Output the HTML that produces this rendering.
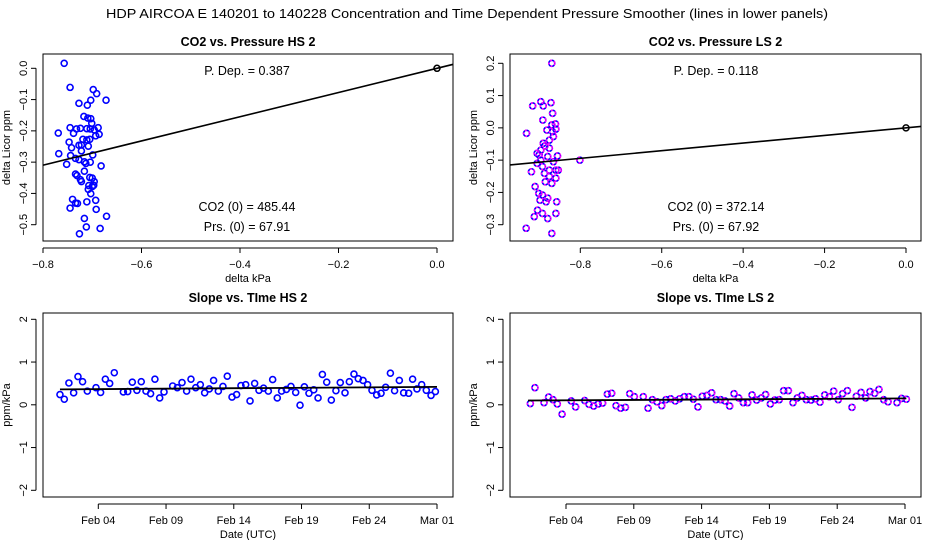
<!DOCTYPE html>
<html><head><meta charset="utf-8"><style>
html,body{margin:0;padding:0;background:#fff;}
svg{display:block;font-family:"Liberation Sans",Arial,sans-serif;}
</style></head><body>
<svg id="chart" width="936" height="540" viewBox="0 0 936 540" xmlns="http://www.w3.org/2000/svg">
<text x="467" y="18" font-size="12.5" text-anchor="middle" textLength="722" lengthAdjust="spacingAndGlyphs">HDP   AIRCOA E   140201 to 140228   Concentration and Time Dependent Pressure Smoother (lines in lower panels)</text>
</svg>
<script>
// ---- Data: HS pressure scatter ----
const hsPressX = [-0.757,-0.745,-0.698,-0.691,-0.672,-0.703,-0.727,-0.710,-0.717,-0.709,-0.703,-0.701,-0.688,-0.745,-0.769,-0.738,-0.732,-0.724,-0.711,-0.704,-0.696,-0.686,-0.693,-0.719,-0.711,-0.705,-0.722,-0.727,-0.708,-0.747,-0.742,-0.768,-0.744,-0.722,-0.699,-0.734,-0.727,-0.716,-0.713,-0.704,-0.752,-0.682,-0.716,-0.734,-0.731,-0.722,-0.724,-0.705,-0.700,-0.696,-0.707,-0.697,-0.700,-0.703,-0.708,-0.693,-0.740,-0.730,-0.734,-0.711,-0.745,-0.692,-0.716,-0.671,-0.712,-0.684,-0.726];
const hsPressY = [0.016,-0.061,-0.068,-0.081,-0.102,-0.102,-0.112,-0.118,-0.154,-0.159,-0.161,-0.176,-0.190,-0.190,-0.207,-0.208,-0.194,-0.192,-0.193,-0.194,-0.197,-0.211,-0.216,-0.227,-0.229,-0.227,-0.245,-0.246,-0.249,-0.236,-0.254,-0.273,-0.279,-0.264,-0.277,-0.288,-0.292,-0.299,-0.304,-0.300,-0.307,-0.312,-0.329,-0.338,-0.343,-0.362,-0.356,-0.349,-0.351,-0.362,-0.375,-0.374,-0.378,-0.401,-0.387,-0.422,-0.419,-0.432,-0.431,-0.427,-0.447,-0.451,-0.480,-0.473,-0.507,-0.512,-0.529];
const hsSlope = 0.387;
// ---- Data: LS pressure scatter ----
const lsPressX = [-0.870,-0.932,-0.917,-0.897,-0.891,-0.872,-0.868,-0.892,-0.906,-0.920,-0.882,-0.870,-0.860,-0.866,-0.876,-0.887,-0.897,-0.880,-0.866,-0.856,-0.897,-0.906,-0.893,-0.876,-0.860,-0.854,-0.876,-0.886,-0.860,-0.911,-0.902,-0.893,-0.880,-0.899,-0.884,-0.858,-0.905,-0.893,-0.880,-0.913,-0.860,-0.933,-0.870,-0.801,-0.861,-0.868,-0.891,-0.876,-0.901,-0.888,-0.870];
const lsPressY = [0.200,-0.017,0.068,0.081,0.068,0.078,0.045,0.024,-0.079,-0.136,-0.007,0.009,-0.004,-0.027,-0.038,-0.056,-0.069,-0.089,-0.105,-0.087,-0.100,-0.110,-0.120,-0.131,-0.131,-0.131,-0.151,-0.167,-0.156,-0.182,-0.203,-0.208,-0.218,-0.224,-0.229,-0.229,-0.255,-0.265,-0.281,-0.275,-0.265,-0.311,-0.327,-0.100,0.012,-0.012,-0.048,-0.063,-0.084,-0.141,-0.172];
const lsSlope = 0.118;
// ---- Data: HS slope vs time (day of Feb) ----
const hsDays = [1.17,1.49,1.83,2.18,2.50,2.84,3.19,3.83,4.17,4.52,4.84,5.18,5.85,6.17,6.51,6.85,7.17,7.52,7.86,8.18,8.53,8.85,9.49,9.83,10.18,10.52,10.84,11.19,11.53,11.85,12.19,12.51,12.86,13.20,13.52,13.87,14.21,14.53,14.88,15.20,15.54,15.86,16.20,16.55,16.87,17.21,17.53,17.88,18.22,18.57,18.89,19.21,19.55,19.90,20.22,20.54,20.86,21.20,21.54,21.86,22.21,22.53,22.87,23.19,23.54,23.88,24.20,24.55,24.87,25.21,25.56,25.87,26.22,26.54,26.91,27.20,27.52,27.87,28.21,28.56,28.88];
const hsSlopes = [0.24,0.13,0.51,0.28,0.66,0.54,0.32,0.40,0.29,0.60,0.50,0.75,0.30,0.31,0.53,0.34,0.54,0.32,0.26,0.60,0.16,0.30,0.44,0.40,0.52,0.32,0.60,0.40,0.47,0.28,0.37,0.57,0.32,0.43,0.67,0.18,0.24,0.45,0.47,0.09,0.50,0.34,0.39,0.32,0.59,0.16,0.32,0.36,0.43,0.29,-0.01,0.42,0.27,0.35,0.16,0.71,0.53,0.11,0.33,0.52,0.28,0.54,0.72,0.61,0.57,0.47,0.34,0.23,0.27,0.41,0.74,0.33,0.57,0.28,0.27,0.60,0.37,0.47,0.34,0.22,0.31];
const hsSmoothDays = [1.17,29.0];
const hsSmoothVals = [0.36,0.42];
// ---- Data: LS slope vs time ----
const lsDays = [1.37,1.71,2.38,2.72,3.04,3.36,3.71,4.39,4.71,5.38,5.70,6.04,6.38,6.70,7.05,7.37,7.69,8.03,8.38,8.70,9.04,9.70,10.05,10.37,10.71,11.06,11.37,11.72,12.06,12.38,12.73,13.07,13.39,13.73,14.05,14.40,14.74,15.06,15.41,15.73,16.07,16.39,16.73,17.08,17.40,17.72,18.06,18.41,18.72,19.07,19.39,19.73,20.05,20.40,20.74,21.06,21.40,21.72,22.07,22.41,22.73,23.08,23.42,23.74,24.08,24.40,24.75,25.09,25.41,25.76,26.10,26.42,26.76,27.08,27.43,27.75,28.41,28.75,29.10];
const lsSlopes = [0.03,0.40,0.05,0.18,0.12,0.02,-0.22,0.09,-0.05,0.10,0.01,-0.03,0.02,0.04,0.25,0.27,-0.02,-0.08,-0.06,0.26,0.19,0.19,-0.08,0.12,0.07,-0.02,0.12,0.14,0.09,0.14,0.19,0.19,0.13,-0.05,0.20,0.22,0.28,0.12,0.12,0.09,-0.03,0.26,0.16,0.05,0.05,0.23,0.11,0.16,0.24,0.02,0.11,0.12,0.33,0.33,0.05,0.16,0.22,0.12,0.11,0.14,0.06,0.23,0.19,0.32,0.12,0.26,0.33,-0.06,0.20,0.29,0.16,0.31,0.27,0.36,0.12,0.07,0.05,0.15,0.13];
const lsSmoothDays = [1.2,29.1];
const lsSmoothVals = [0.10,0.15];
const pressTicksX = [-0.8,-0.6,-0.4,-0.2,0.0];
const hsTicksY = [0.0,-0.1,-0.2,-0.3,-0.4,-0.5];
const lsTicksY = [0.2,0.1,0.0,-0.1,-0.2,-0.3];
const dateTicks = [4,9,14,19,24,29];
const dateLabels = ["Feb 04","Feb 09","Feb 14","Feb 19","Feb 24","Mar 01"];
const slopeTicksY = [2,1,0,-1,-2];

const svg = document.getElementById('chart');
const NS = 'http://www.w3.org/2000/svg';
function mk(tag, attrs, parent){ const e=document.createElementNS(NS,tag); for(const k in attrs) e.setAttribute(k,attrs[k]); (parent||svg).appendChild(e); return e; }
function lin(d0,d1,r0,r1){ return v => r0 + (v-d0)*(r1-r0)/(d1-d0); }
function fmt(v,dec){ const s=v.toFixed(dec); return s.replace('-','\u2212'); }

function panel(o){
  const g = mk('g',{});
  
  
  const t = mk('text',{x:(o.box[0]+o.box[1])/2,y:o.titleY,'font-size':12.5,'font-weight':'bold','text-anchor':'middle'},g);
  t.textContent=o.title;
  
  
  const fr = mk('rect',{x:o.box[0],y:o.box[2],width:o.box[1]-o.box[0],height:o.box[3]-o.box[2],fill:'none',stroke:'#000','stroke-width':1},g);
  
  
  const bY=o.box[3], lX=o.box[0];
  // x axis
  const xa = mk('g',{},g);
  
  
  const xt=o.xTicks.map(o.sx);
  mk('line',{x1:Math.min(...xt),x2:Math.max(...xt),y1:bY+7,y2:bY+7,stroke:'#000'},xa);
  o.xTicks.forEach((v,i)=>{ const x=o.sx(v); mk('line',{x1:x,x2:x,y1:bY+7,y2:bY+12,stroke:'#000'},xa);
    const tx=mk('text',{x:x,y:bY+27,'font-size':11,'text-anchor':'middle'},xa); tx.textContent=o.xLabels?o.xLabels[i]:fmt(v,1);
    
     });
  const xl=mk('text',{x:(o.box[0]+o.box[1])/2,y:bY+41,'font-size':11,'text-anchor':'middle'},xa); xl.textContent=o.xTitle;
  
  
  // y axis
  const ya = mk('g',{},g);
  
  
  const yt=o.yTicks.map(o.sy);
  mk('line',{x1:lX-7,x2:lX-7,y1:Math.min(...yt),y2:Math.max(...yt),stroke:'#000'},ya);
  o.yTicks.forEach(v=>{ const y=o.sy(v); mk('line',{x1:lX-12,x2:lX-7,y1:y,y2:y,stroke:'#000'},ya);
    const tx=mk('text',{x:0,y:0,'font-size':11,'text-anchor':'middle',transform:`translate(${lX-16},${y}) rotate(-90)`},ya);
    tx.textContent=o.yDec===0?fmt(v,0):fmt(v,1);
    
     });
  const yl=mk('text',{x:0,y:0,'font-size':11,'text-anchor':'middle',transform:`translate(${lX-33},${(o.box[2]+o.box[3])/2}) rotate(-90)`},ya); yl.textContent=o.yTitle;
  
  
  return g;
}
function clip(id,box){ const c=mk('clipPath',{id:id}); mk('rect',{x:box[0],y:box[2],width:box[1]-box[0],height:box[3]-box[2]},c); return 'url(#'+id+')'; }
function points(g,xs,ys,sx,sy,ls,name){
  const pg=mk('g',{},g);
  
  
  xs.forEach((v,i)=>{
    const c=mk('circle',{cx:sx(v),cy:sy(ys[i]),r:3,fill:'none',stroke:'#0000ff','stroke-width':1.6},pg);
    
    
    if(ls){ mk('circle',{cx:sx(v),cy:sy(ys[i]),r:3,fill:'none',stroke:'#ff00ff','stroke-width':1.6,'stroke-dasharray':'2 2'},pg); }
  });
}

// Top-left
(function(){
  const box=[43,453,54,241];
  const sx=lin(-0.8,0,43,437), sy=lin(0,-0.5,68.3,224.7);
  const g=panel({name:'hs-pressure-panel',title:'CO2 vs. Pressure HS 2',titleY:46,box,sx,sy,xTicks:pressTicksX,yTicks:hsTicksY,xTitle:'delta kPa',yTitle:'delta Licor ppm'});
  const cp=clip('c1',box);
  points(g,hsPressX,hsPressY,sx,sy,false,'hs-pressure-points');
  const fl=mk('line',{x1:sx(-0.9),y1:sy(-0.9*hsSlope),x2:sx(0.1),y2:sy(0.1*hsSlope),stroke:'#000','stroke-width':1.6,'clip-path':cp},g);
  
  
  const o=mk('circle',{cx:sx(0),cy:sy(0),r:3,fill:'none',stroke:'#000','stroke-width':1.5},g);
  
  
  [['P. Dep. =  '+hsSlope.toFixed(3),75],['CO2 (0) =  485.44',211],['Prs. (0) =  67.91',231]].forEach(a=>{
    const t=mk('text',{x:247,y:a[1],'font-size':12.5,'text-anchor':'middle','xml:space':'preserve'},g); t.textContent=a[0];
    
    
  });
})();
// Top-right
(function(){
  const box=[510,921,54,241];
  const sx=lin(-0.8,0,580.3,906), sy=lin(0.2,-0.3,63.3,224.7);
  const g=panel({name:'ls-pressure-panel',title:'CO2 vs. Pressure LS 2',titleY:46,box,sx,sy,xTicks:pressTicksX,yTicks:lsTicksY,xTitle:'delta kPa',yTitle:'delta Licor ppm'});
  const cp=clip('c2',box);
  points(g,lsPressX,lsPressY,sx,sy,true,'ls-pressure-points');
  const fl=mk('line',{x1:sx(-1.1),y1:sy(-1.1*lsSlope),x2:sx(0.1),y2:sy(0.1*lsSlope),stroke:'#000','stroke-width':1.6,'clip-path':cp},g);
  
  
  const o=mk('circle',{cx:sx(0),cy:sy(0),r:3,fill:'none',stroke:'#000','stroke-width':1.5},g);
  
  
  [['P. Dep. =  '+lsSlope.toFixed(3),75],['CO2 (0) =  372.14',211],['Prs. (0) =  67.92',231]].forEach(a=>{
    const t=mk('text',{x:716,y:a[1],'font-size':12.5,'text-anchor':'middle','xml:space':'preserve'},g); t.textContent=a[0];
    
    
  });
})();
// Bottom-left
(function(){
  const box=[43,453,313,497];
  const sx=lin(4,29,98.3,437), sy=lin(2,-2,319.3,490.3);
  const g=panel({name:'hs-slope-panel',title:'Slope vs. TIme HS 2',titleY:302,box,sx,sy,xTicks:dateTicks,xLabels:dateLabels,yTicks:slopeTicksY,yDec:0,xTitle:'Date (UTC)',yTitle:'ppm/kPa'});
  points(g,hsDays,hsSlopes,sx,sy,false,'hs-slope-points');
  const sl=mk('line',{x1:sx(hsSmoothDays[0]),y1:sy(hsSmoothVals[0]),x2:sx(hsSmoothDays[1]),y2:sy(hsSmoothVals[1]),stroke:'#000','stroke-width':1.8},g);
  
  
})();
// Bottom-right
(function(){
  const box=[510,921,313,497];
  const sx=lin(4,29,566,905), sy=lin(2,-2,319.3,490.3);
  const g=panel({name:'ls-slope-panel',title:'Slope vs. TIme LS 2',titleY:302,box,sx,sy,xTicks:dateTicks,xLabels:dateLabels,yTicks:slopeTicksY,yDec:0,xTitle:'Date (UTC)',yTitle:'ppm/kPa'});
  points(g,lsDays,lsSlopes,sx,sy,true,'ls-slope-points');
  const sl=mk('line',{x1:sx(lsSmoothDays[0]),y1:sy(lsSmoothVals[0]),x2:sx(lsSmoothDays[1]),y2:sy(lsSmoothVals[1]),stroke:'#000','stroke-width':1.8},g);
  
  
})();
</script>
</body></html>
